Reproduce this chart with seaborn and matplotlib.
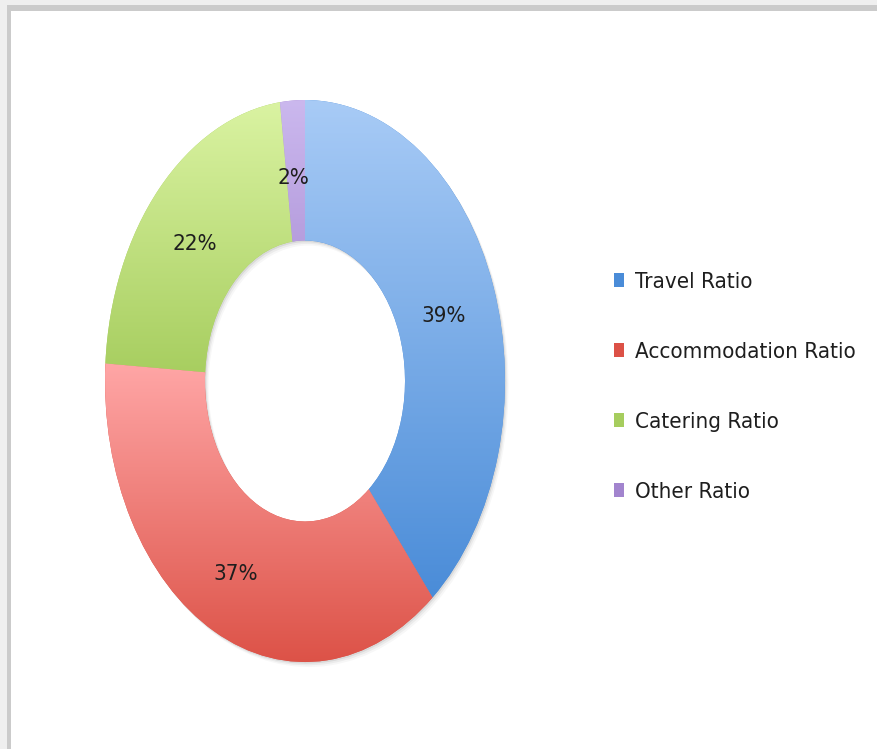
import numpy as np
import pandas as pd
import matplotlib
matplotlib.use('Agg')
import matplotlib.pyplot as plt
import matplotlib.transforms as mtransforms
import seaborn as sns
from matplotlib.colors import LinearSegmentedColormap
from matplotlib.patches import Rectangle

# data
categories = ['Travel Ratio', 'Accommodation Ratio', 'Catering Ratio', 'Other Ratio']
ratios = [39, 37, 22, 2]
top_colors = ['#a8cbf6', '#ffa6a6', '#daf3a2', '#cbb8ee']
bottom_colors = ['#4a8cd8', '#dc5146', '#a6cd5e', '#a284ce']

sns.set_theme(style='white')
plt.rcParams['font.family'] = ['DejaVu Sans']
plt.rcParams['font.stretch'] = 'condensed'

W, H = 877, 749
fig = plt.figure(figsize=(W / 100, H / 100), dpi=100)
fig.patch.set_facecolor('#efefef')

# frame like a screenshot of a chart sheet
fig.patches.append(Rectangle((11 / W, 0), 1, (H - 11) / H, transform=fig.transFigure,
                             facecolor='white', edgecolor='none', zorder=-2))
fig.patches.append(Rectangle((7 / W, (H - 11) / H), 1, 6 / H, transform=fig.transFigure,
                             facecolor='#cbcbcb', edgecolor='none', zorder=-1))
fig.patches.append(Rectangle((7 / W, 0), 4 / W, (H - 5) / H, transform=fig.transFigure,
                             facecolor='#cbcbcb', edgecolor='none', zorder=-1))

# donut is stretched vertically, so use an axes box with the ellipse shape
ax = fig.add_axes([105 / W, (H - 662) / H, 400 / W, 562 / H])
ax.set_zorder(5)
ax.set_facecolor('none')

# soft shadow
for k, a in enumerate(['#00000012', '#0000000c', '#00000008']):
    d = 0.006 * (k + 1)
    ax.pie(ratios, startangle=90, counterclock=False, radius=1, center=(d, -d),
           colors=[a] * len(ratios), wedgeprops=dict(width=0.5, linewidth=0))

wedges, texts, autotexts = ax.pie(
    ratios, startangle=90, counterclock=False, radius=1,
    colors=bottom_colors, autopct='%d%%', pctdistance=0.745,
    wedgeprops=dict(width=0.5, linewidth=0),
    textprops=dict(fontsize=16, color='#1e1e1e'))

ax.set_aspect('auto')

# vertical gradient fill for each wedge
for w, c1, c2 in zip(wedges, top_colors, bottom_colors):
    verts = w.get_path().vertices
    y0, y1 = verts[:, 1].min(), verts[:, 1].max()
    cmap = LinearSegmentedColormap.from_list('g', [c2, c1])
    grad = np.linspace(0, 1, 256).reshape(-1, 1)
    im = ax.imshow(grad, cmap=cmap, origin='lower', aspect='auto',
                   extent=(-1, 1, y0, y1), zorder=w.get_zorder() + 0.1)
    im.set_clip_path(w)

for t in autotexts:
    t.set_zorder(10)
    t.set_transform(mtransforms.offset_copy(ax.transData, fig=fig, x=-2, y=-6, units='dots'))

ax.set_xlim(-1.0, 1.0)
ax.set_ylim(-1.0, 1.0)
ax.axis('off')

leg = fig.legend(wedges, categories, loc='upper left', bbox_to_anchor=(594 / W, 1 - 252 / H),
                 frameon=False, fontsize=16, handlelength=0.45, handleheight=0.6,
                 handletextpad=0.5, labelspacing=2.25)
for t in leg.get_texts():
    t.set_color('#1e1e1e')

fig.savefig('out.png', dpi=100)
